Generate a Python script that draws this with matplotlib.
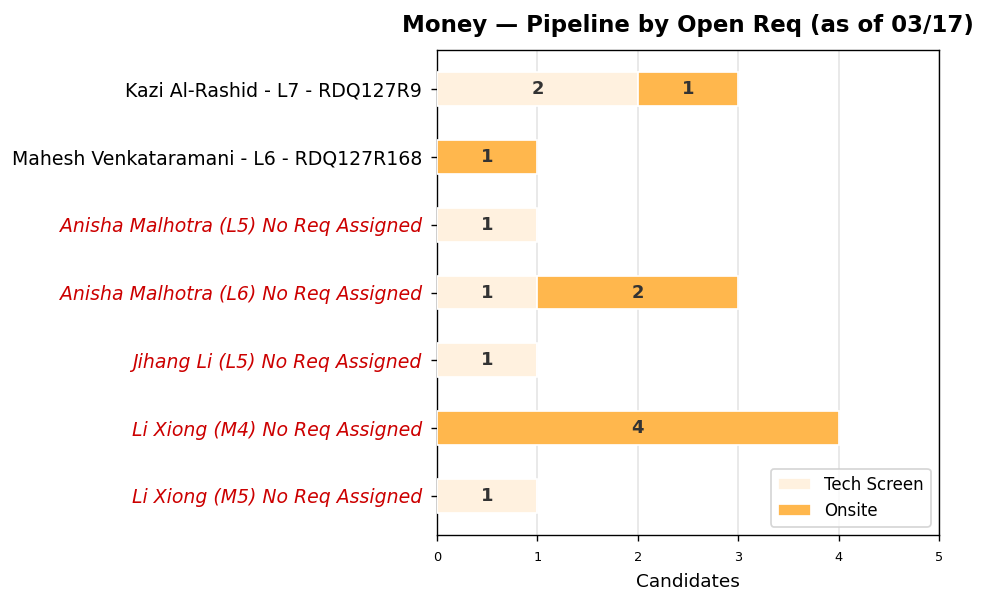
import numpy as np
import matplotlib
matplotlib.use("Agg")
from matplotlib import pyplot as plt

reqs = [
    "Kazi Al-Rashid - L7 - RDQ127R9",
    "Mahesh Venkataramani - L6 - RDQ127R168",
    "Anisha Malhotra (L5) No Req Assigned",
    "Anisha Malhotra (L6) No Req Assigned",
    "Jihang Li (L5) No Req Assigned",
    "Li Xiong (M4) No Req Assigned",
    "Li Xiong (M5) No Req Assigned",
]
no_req = [False, False, True, True, True, True, True]
tech_screen = [2, 0, 1, 1, 1, 0, 1]
onsite = [1, 1, 0, 2, 0, 4, 0]

stages = ["Tech Screen", "Onsite"]
stage_colors = ["#FFF1DF", "#FFB74D"]

DPI = 123.625
fig = plt.figure(figsize=(989 / DPI, 607 / DPI), dpi=DPI)
ax = fig.add_axes([437 / 989, 1 - 535 / 607, 502 / 989, 485 / 607])

y = np.arange(len(reqs))[::-1]
left = np.zeros(len(reqs))
for name, vals, col in zip(stages, [tech_screen, onsite], stage_colors):
    vals = np.array(vals)
    bars = ax.barh(y, vals, left=left, height=0.5, color=col,
                   edgecolor="white", linewidth=1, label=name, zorder=3)
    for b, v in zip(bars, vals):
        if v > 0:
            ax.text(b.get_x() + b.get_width() / 2, b.get_y() + b.get_height() / 2,
                    str(v), ha="center", va="center", fontsize=10.5,
                    fontweight="bold", color="#333333", zorder=4)
    left = left + vals

ax.set_yticks(y)
ax.set_yticklabels(reqs, fontsize=11)
ax.tick_params(axis="y", pad=5.3)
for lbl, flag in zip(ax.get_yticklabels(), no_req):
    if flag:
        lbl.set_color("#CC0000")
        lbl.set_fontstyle("italic")

ax.set_xlim(0, 5)
ax.set_xticks(range(6))
ax.tick_params(axis="x", labelsize=7.5, pad=6)
ax.grid(axis="x", color="#e6e6e6", linewidth=1, zorder=0)
ax.set_axisbelow(True)
ax.set_xlabel("Candidates", fontsize=10.8, labelpad=5)
ax.set_title("Money — Pipeline by Open Req (as of 03/17)", fontsize=13.3,
             fontweight="bold", pad=10.5)
ax.legend(loc="lower right", fontsize=9.7)

fig.savefig("out.png", dpi=DPI)
